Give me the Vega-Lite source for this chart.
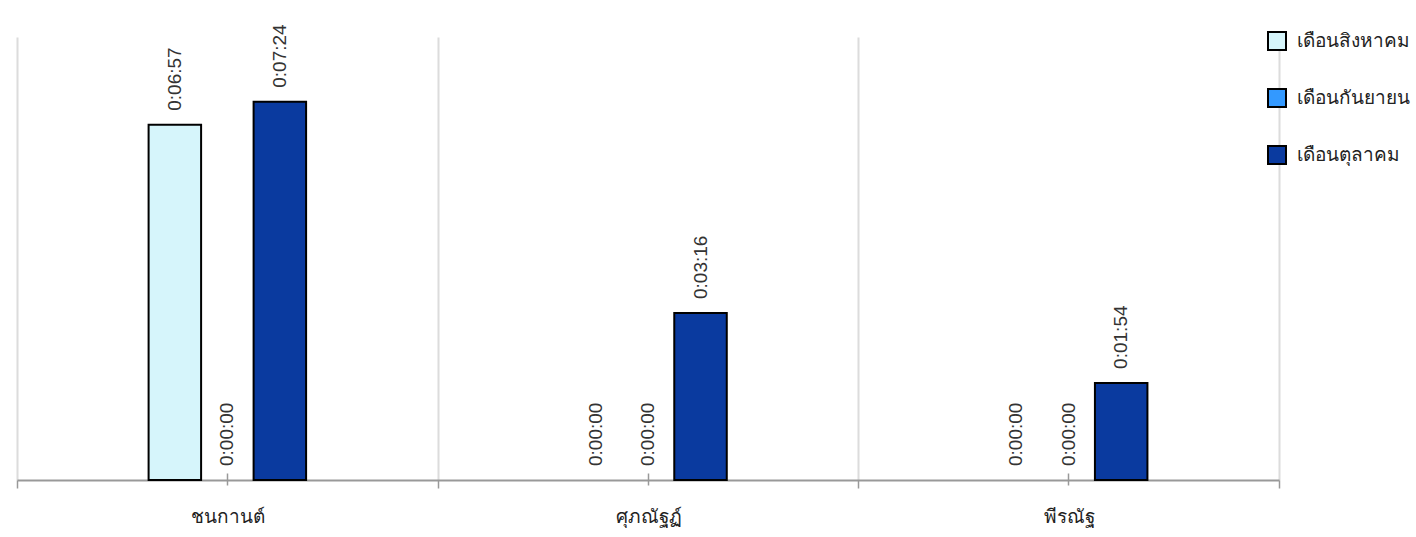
{
  "$schema": "https://vega.github.io/schema/vega-lite/v6.json",
  "width": 1262,
  "height": 443,
  "autosize": {"type": "none"},
  "padding": {"left": 17, "top": 37, "right": 137, "bottom": 57},
  "background": "white",
  "config": {
    "view": {"stroke": null},
    "font": "Liberation Sans"
  },
  "data": {
    "values": [
      {"name": "ชนกานต์", "month": "เดือนสิงหาคม", "seconds": 417, "label": "0:06:57"},
      {"name": "ชนกานต์", "month": "เดือนกันยายน", "seconds": 0, "label": "0:00:00"},
      {"name": "ชนกานต์", "month": "เดือนตุลาคม", "seconds": 444, "label": "0:07:24"},
      {"name": "ศุภณัฐฏ์", "month": "เดือนสิงหาคม", "seconds": 0, "label": "0:00:00"},
      {"name": "ศุภณัฐฏ์", "month": "เดือนกันยายน", "seconds": 0, "label": "0:00:00"},
      {"name": "ศุภณัฐฏ์", "month": "เดือนตุลาคม", "seconds": 196, "label": "0:03:16"},
      {"name": "พีรณัฐ", "month": "เดือนสิงหาคม", "seconds": 0, "label": "0:00:00"},
      {"name": "พีรณัฐ", "month": "เดือนกันยายน", "seconds": 0, "label": "0:00:00"},
      {"name": "พีรณัฐ", "month": "เดือนตุลาคม", "seconds": 114, "label": "0:01:54"}
    ]
  },
  "encoding": {
    "x": {
      "field": "name",
      "type": "nominal",
      "sort": null,
      "scale": {"paddingInner": 0, "paddingOuter": 0},
      "title": null
    },
    "xOffset": {
      "field": "month",
      "type": "nominal",
      "sort": null,
      "scale": {
        "domain": ["เดือนสิงหาคม", "เดือนกันยายน", "เดือนตุลาคม"],
        "range": [131.6, 289.1],
        "paddingInner": 0,
        "paddingOuter": 0
      }
    },
    "y": {
      "field": "seconds",
      "type": "quantitative",
      "scale": {"domain": [0, 520], "nice": false},
      "axis": null
    }
  },
  "layer": [
    {
      "transform": [{"filter": "datum.seconds > 0"}],
      "mark": {"type": "bar", "stroke": "#000000", "strokeWidth": 2},
      "encoding": {
        "x": {
          "field": "name",
          "type": "nominal",
          "sort": null,
          "title": null,
          "axis": {
            "orient": "bottom",
            "tickBand": "extent",
            "grid": true,
            "gridColor": "#dcdcdc",
            "gridWidth": 2,
            "domainColor": "#999999",
            "domainWidth": 2,
            "tickColor": "#999999",
            "tickWidth": 1.5,
            "tickSize": 8,
            "labelAngle": 0,
            "labelFontSize": 19,
            "labelColor": "#222222",
            "labelPadding": 19,
            "labelFont": "Liberation Sans"
          }
        },
        "color": {
          "field": "month",
          "type": "nominal",
          "sort": null,
          "scale": {
            "domain": ["เดือนสิงหาคม", "เดือนกันยายน", "เดือนตุลาคม"],
            "range": ["#d6f5fb", "#3399ff", "#0a3a9f"]
          },
          "legend": {
            "title": null,
            "orient": "none",
            "legendX": 1250,
            "legendY": -6,
            "symbolType": "square",
            "symbolSize": 324,
            "symbolStrokeColor": "#000000",
            "symbolStrokeWidth": 2,
            "labelFontSize": 19,
            "labelColor": "#222222",
            "labelOffset": 10,
            "rowPadding": 31,
            "padding": 0
          }
        }
      }
    },
    {
      "mark": {
        "type": "text",
        "angle": 270,
        "align": "left",
        "baseline": "middle",
        "dx": 14,
        "fontSize": 19,
        "color": "#333333"
      },
      "encoding": {
        "x": {
          "field": "name",
          "type": "nominal",
          "sort": null,
          "title": null,
          "axis": {
            "orient": "bottom",
            "tickBand": "center",
            "grid": false,
            "domain": false,
            "labels": false,
            "offset": -7,
            "tickColor": "#999999",
            "tickWidth": 1.5,
            "tickSize": 12
          }
        },
        "text": {"field": "label"}
      }
    }
  ],
  "resolve": {"axis": {"x": "independent"}}
}
